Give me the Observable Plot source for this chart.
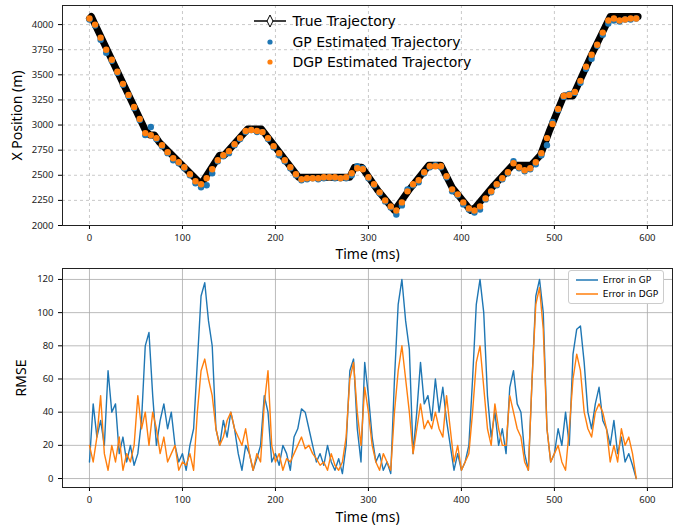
<!DOCTYPE html>
<html><head><meta charset="utf-8">
<script src="https://cdn.jsdelivr.net/npm/d3@7"></script>
<script src="https://cdn.jsdelivr.net/npm/@observablehq/plot@0.6"></script>
<style>
body{margin:0;background:#fff;font-family:"DejaVu Sans",sans-serif;}
#wrap{position:relative;width:678px;}
svg{display:block;}
g[aria-label="x-axis label"] text, g[aria-label="y-axis label"] text{font-size:14px;fill:#000;}
g[aria-label="x-axis tick label"], g[aria-label="y-axis tick label"]{font-size:9.5px;fill:#222;}
.leg1{position:absolute;left:252px;top:11px;font-size:14px;line-height:20.5px;}
.leg1 div{display:flex;align-items:center;height:20.5px;}
.leg2{position:absolute;left:568px;top:270px;font-size:9px;border:1px solid #ccc;border-radius:3px;background:#fff;padding:2px 5px;line-height:14px;}
.leg2 div{display:flex;align-items:center;}
</style></head><body>
<div id="wrap"></div>
<script>
const trueT=[0,2,5,60,65,70,75,118,122,140,145,170,185,190,225,280,285,293,310,328,345,365,378,390,410,415,435,455,475,485,495,510,520,540,560,590];
const trueX=[4060,4080,4020,2950,2900,2900,2830,2430,2440,2700,2700,2960,2960,2900,2480,2480,2580,2580,2350,2150,2370,2600,2600,2380,2150,2180,2400,2600,2600,2700,2950,3290,3290,3700,4080,4080];
const estT=[0,6,12,18,24,30,36,42,48,54,60,66,72,78,84,90,96,102,108,114,120,126,132,138,144,150,156,162,168,174,180,186,192,198,204,210,216,222,228,234,240,246,252,258,264,270,276,282,288,294,300,306,312,318,324,330,336,342,348,354,360,366,372,378,384,390,396,402,408,414,420,426,432,438,444,450,456,462,468,474,480,486,492,498,504,510,516,522,528,534,540,546,552,558,564,570,576,582,588];
const gpX=[4050,3990,3850,3720,3640,3520,3400,3290,3170,3050,2900,2980,2860,2790,2720,2650,2620,2570,2500,2420,2380,2400,2520,2640,2690,2720,2800,2860,2930,2950,2930,2930,2860,2780,2700,2640,2570,2500,2450,2460,2470,2460,2470,2480,2470,2470,2470,2500,2590,2570,2470,2400,2320,2240,2180,2110,2200,2360,2400,2430,2520,2580,2600,2580,2480,2340,2300,2210,2160,2130,2160,2260,2330,2400,2460,2520,2640,2570,2540,2560,2610,2700,2800,3030,3150,3280,3310,3320,3420,3560,3660,3790,3900,4010,4040,4030,4050,4050,4060];
const dgpX=[4060,4000,3870,3750,3650,3530,3410,3300,3180,3060,2920,2900,2870,2800,2730,2670,2630,2580,2510,2440,2410,2470,2560,2650,2700,2740,2810,2870,2940,2950,2940,2930,2870,2790,2720,2650,2580,2510,2460,2470,2470,2470,2480,2480,2480,2470,2480,2520,2570,2560,2480,2410,2330,2250,2190,2150,2230,2340,2410,2450,2530,2590,2590,2590,2490,2360,2310,2230,2170,2150,2190,2270,2340,2410,2470,2530,2620,2580,2550,2570,2630,2720,2870,3010,3160,3290,3300,3330,3440,3580,3700,3800,3920,4040,4060,4040,4050,4060,4060];
const errT=d3.range(0,589,4);
const gpErr=[10,45,25,35,20,65,40,45,15,25,10,20,8,15,35,80,88,50,20,35,45,30,40,20,10,15,5,20,30,70,110,118,95,80,30,20,35,25,40,30,15,5,20,15,5,12,20,50,40,10,15,8,20,15,5,25,30,42,40,30,20,10,15,8,20,10,5,12,3,20,65,72,30,10,70,50,25,10,15,5,10,3,60,105,120,95,78,15,40,70,45,50,35,60,40,55,35,20,5,15,5,10,20,60,105,120,100,50,25,40,20,30,15,55,65,45,40,15,5,60,110,120,100,30,10,15,30,20,40,20,75,90,92,70,40,30,45,55,35,30,20,35,15,25,10,15,8,0];
const dgpErr=[20,10,25,50,15,5,20,10,25,5,15,10,20,50,30,40,20,40,30,15,25,10,15,20,5,10,8,15,5,40,65,72,60,50,30,20,25,35,40,30,25,20,30,15,5,15,10,45,65,20,10,15,5,12,10,15,20,25,18,20,15,12,8,10,5,15,8,5,10,25,60,70,40,20,55,40,20,10,5,15,10,5,40,65,80,60,40,15,30,45,30,35,30,40,30,25,50,30,10,20,5,10,15,40,70,80,55,30,20,45,30,20,20,50,40,30,25,10,5,60,105,115,90,30,10,15,20,10,5,30,60,75,65,40,30,25,40,45,40,30,10,20,10,30,20,25,15,0];
const xTicks=[0,100,200,300,400,500,600];
const yTicksTop=[2000,2250,2500,2750,3000,3250,3500,3750,4000];
const yTicksBot=[0,20,40,60,80,100,120];
const BLUE="#1f77b4", ORANGE="#ff7f0e";
const fmt=d=>String(d);

const tr=trueT.map((t,i)=>({t,x:trueX[i]}));
const gp=estT.map((t,i)=>({t,x:gpX[i]}));
const dg=estT.map((t,i)=>({t,x:dgpX[i]}));
const topChart=Plot.plot({width:678,height:262,marginLeft:62,marginRight:6,marginTop:5,marginBottom:37,
 x:{domain:[-29,627]},y:{domain:[2000,4190]},
 marks:[
  Plot.gridX(xTicks,{stroke:"#bbb",strokeOpacity:0.8,strokeDasharray:"3,3"}),
  Plot.gridY(yTicksTop,{stroke:"#bbb",strokeOpacity:0.8,strokeDasharray:"3,3"}),
  Plot.line(tr,{x:"t",y:"x",stroke:"black",strokeWidth:7}),
  Plot.dot(gp,{x:"t",y:"x",fill:BLUE,r:3.2}),
  Plot.dot(dg,{x:"t",y:"x",fill:ORANGE,r:3.2}),
  Plot.axisX(xTicks,{label:"Time (ms)",labelAnchor:"center",labelArrow:"none",labelOffset:33,tickSize:4,tickFormat:fmt}),
  Plot.axisY(yTicksTop,{label:"X Position (m)",labelAnchor:"center",labelArrow:"none",labelOffset:50,tickSize:4,tickFormat:fmt}),
  Plot.frame({stroke:"#222"})
 ]});
const eg=errT.map((t,i)=>({t,e:gpErr[i]}));
const ed=errT.map((t,i)=>({t,e:dgpErr[i]}));
const botChart=Plot.plot({width:678,height:263,marginLeft:62,marginRight:6,marginTop:6,marginBottom:38,
 x:{domain:[-29,627]},y:{domain:[-5.4,126.6]},
 marks:[
  Plot.gridX(xTicks,{stroke:"#aaa",strokeOpacity:0.8}),
  Plot.gridY(yTicksBot,{stroke:"#aaa",strokeOpacity:0.8}),
  Plot.line(eg,{x:"t",y:"e",stroke:BLUE,strokeWidth:1.4}),
  Plot.line(ed,{x:"t",y:"e",stroke:ORANGE,strokeWidth:1.4}),
  Plot.axisX(xTicks,{label:"Time (ms)",labelAnchor:"center",labelArrow:"none",labelOffset:34,tickSize:4,tickFormat:fmt}),
  Plot.axisY(yTicksBot,{label:"RMSE",labelAnchor:"center",labelArrow:"none",labelOffset:46,tickSize:4,tickFormat:fmt}),
  Plot.frame({stroke:"#222"})
 ]});
const w=document.getElementById("wrap");
w.appendChild(topChart);w.appendChild(botChart);
const l1=document.createElement("div");l1.className="leg1";
l1.innerHTML=`<div><svg width="36" height="14"><line x1="2" x2="34" y1="7" y2="7" stroke="black" stroke-width="1.5"/><path d="M18,1 L21,7 L18,13 L15,7Z" fill="#fff" stroke="black"/></svg>&nbsp;True Trajectory</div>
<div><svg width="36" height="14"><circle cx="18" cy="7" r="2.6" fill="${BLUE}"/></svg>&nbsp;GP Estimated Trajectory</div>
<div><svg width="36" height="14"><circle cx="18" cy="7" r="2.6" fill="${ORANGE}"/></svg>&nbsp;DGP Estimated Trajectory</div>`;
w.appendChild(l1);
const l2=document.createElement("div");l2.className="leg2";
l2.innerHTML=`<div><svg width="26" height="8"><line x1="2" x2="24" y1="4" y2="4" stroke="${BLUE}" stroke-width="1.5"/></svg>&nbsp;Error in GP</div>
<div><svg width="26" height="8"><line x1="2" x2="24" y1="4" y2="4" stroke="${ORANGE}" stroke-width="1.5"/></svg>&nbsp;Error in DGP</div>`;
w.appendChild(l2);
</script></body></html>
